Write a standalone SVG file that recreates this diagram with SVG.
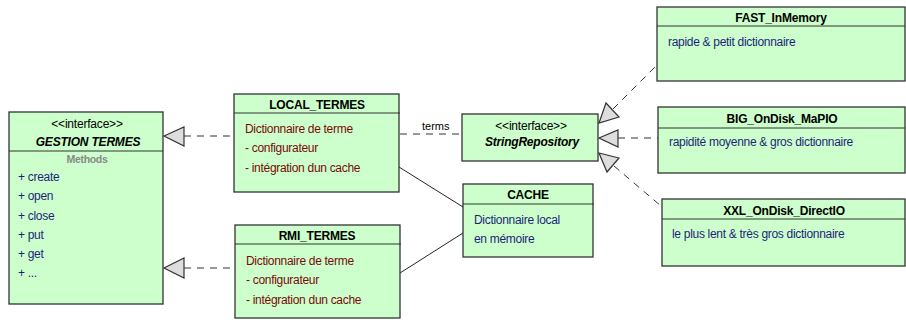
<svg xmlns="http://www.w3.org/2000/svg" width="906" height="320" viewBox="0 0 906 320">
<style>
  .box { fill: #ccffcc; stroke: #333333; stroke-width: 1.3; }
  .sep { stroke: #333333; stroke-width: 1.2; }
  .title { font-family: "Liberation Sans", Arial, sans-serif; font-size: 12px; font-weight: bold; fill: #000; text-anchor: middle; letter-spacing: -0.2px; }
  .stereo { font-family: "Liberation Sans", Arial, sans-serif; font-size: 12px; fill: #000; text-anchor: middle; letter-spacing: -0.2px; }
  .ititle { font-family: "Liberation Sans", Arial, sans-serif; font-size: 12px; font-weight: bold; font-style: italic; fill: #000; text-anchor: middle; letter-spacing: -0.2px; }
  .red { font-family: "Liberation Sans", Arial, sans-serif; font-size: 12px; fill: #7a0a0a; letter-spacing: -0.3px; }
  .blue { font-family: "Liberation Sans", Arial, sans-serif; font-size: 12px; fill: #1f1f7a; letter-spacing: -0.3px; }
  .grey { font-family: "Liberation Sans", Arial, sans-serif; font-size: 10.5px; font-weight: bold; fill: #8a8a8a; text-anchor: middle; letter-spacing: -0.3px; }
  .lbl { font-family: "Liberation Sans", Arial, sans-serif; font-size: 11px; fill: #000; }
  .dash { stroke: #333333; stroke-width: 1; stroke-dasharray: 7 6; fill: none; }
  .solid { stroke: #222222; stroke-width: 1; fill: none; }
  .tri { fill: #dddddd; stroke: #333333; stroke-width: 1.2; }
</style>

<g id="connectors">
  <line class="dash" x1="184" y1="136" x2="234" y2="136"/>
  <polygon class="tri" points="164,136 184,127 184,146"/>
  <line class="dash" x1="184" y1="268" x2="235" y2="268"/>
  <polygon class="tri" points="164,268 184,258 184,278"/>
  <line class="dash" x1="400" y1="134" x2="462" y2="134"/>
  <text class="lbl" x="422" y="130">terms</text>
  <line class="solid" x1="399" y1="167" x2="463" y2="207"/>
  <line class="solid" x1="400" y1="273" x2="463" y2="233"/>
  <line class="dash" x1="613" y1="109" x2="657" y2="65"/>
  <polygon class="tri" points="599,123 606,103 619,117"/>
  <line class="dash" x1="618" y1="138" x2="658" y2="138"/>
  <polygon class="tri" points="599,138 618,130 618,147"/>
  <line class="dash" x1="614" y1="166" x2="661" y2="206"/>
  <polygon class="tri" points="599,153 619,158 607,172"/>
</g>

<g id="gestion_termes">
  <rect class="box" x="9" y="112" width="154" height="192"/>
  <line class="sep" x1="9" y1="151" x2="163" y2="151"/>
  <text class="stereo" x="87" y="128">&lt;&lt;interface&gt;&gt;</text>
  <text class="ititle" x="88" y="146">GESTION TERMES</text>
  <text class="grey" x="87" y="163">Methods</text>
  <text class="blue" x="18" y="181">+ create</text>
  <text class="blue" x="18" y="200">+ open</text>
  <text class="blue" x="18" y="220">+ close</text>
  <text class="blue" x="18" y="239">+ put</text>
  <text class="blue" x="18" y="258">+ get</text>
  <text class="blue" x="18" y="277">+ ...</text>
</g>

<g id="local_termes">
  <rect class="box" x="234" y="94" width="165" height="98"/>
  <line class="sep" x1="234" y1="113" x2="400" y2="113"/>
  <text class="title" x="317" y="109">LOCAL_TERMES</text>
  <text class="red" x="245" y="133">Dictionnaire de terme</text>
  <text class="red" x="245" y="152">- configurateur</text>
  <text class="red" x="245" y="172">- intégration dun cache</text>
</g>

<g id="rmi_termes">
  <rect class="box" x="235" y="225" width="165" height="93"/>
  <line class="sep" x1="235" y1="244" x2="401" y2="244"/>
  <text class="title" x="317" y="240">RMI_TERMES</text>
  <text class="red" x="246" y="265">Dictionnaire de terme</text>
  <text class="red" x="246" y="284">- configurateur</text>
  <text class="red" x="246" y="304">- intégration dun cache</text>
</g>

<g id="string_repository">
  <rect class="box" x="462" y="114" width="136" height="47"/>
  <text class="stereo" x="531" y="130">&lt;&lt;interface&gt;&gt;</text>
  <text class="ititle" x="532" y="146">StringRepository</text>
</g>

<g id="cache">
  <rect class="box" x="463" y="184" width="130" height="73"/>
  <line class="sep" x1="463" y1="204" x2="594" y2="204"/>
  <text class="title" x="528" y="199">CACHE</text>
  <text class="blue" x="474" y="224">Dictionnaire local</text>
  <text class="blue" x="474" y="243">en mémoire</text>
</g>

<g id="fast_inmemory">
  <rect class="box" x="657" y="7" width="248" height="74"/>
  <line class="sep" x1="657" y1="26" x2="905" y2="26"/>
  <text class="title" x="781" y="22">FAST_InMemory</text>
  <text class="blue" x="668" y="46">rapide &amp; petit dictionnaire</text>
</g>

<g id="big_ondisk_mapio">
  <rect class="box" x="658" y="107" width="247" height="66"/>
  <line class="sep" x1="658" y1="128" x2="905" y2="128"/>
  <text class="title" x="782" y="123">BIG_OnDisk_MaPIO</text>
  <text class="blue" x="669" y="146">rapidité moyenne &amp; gros dictionnaire</text>
</g>

<g id="xxl_ondisk_directio">
  <rect class="box" x="662" y="199" width="243" height="67"/>
  <line class="sep" x1="662" y1="219" x2="905" y2="219"/>
  <text class="title" x="784" y="215">XXL_OnDisk_DirectIO</text>
  <text class="blue" x="672" y="238">le plus lent &amp; très gros dictionnaire</text>
</g>
</svg>
